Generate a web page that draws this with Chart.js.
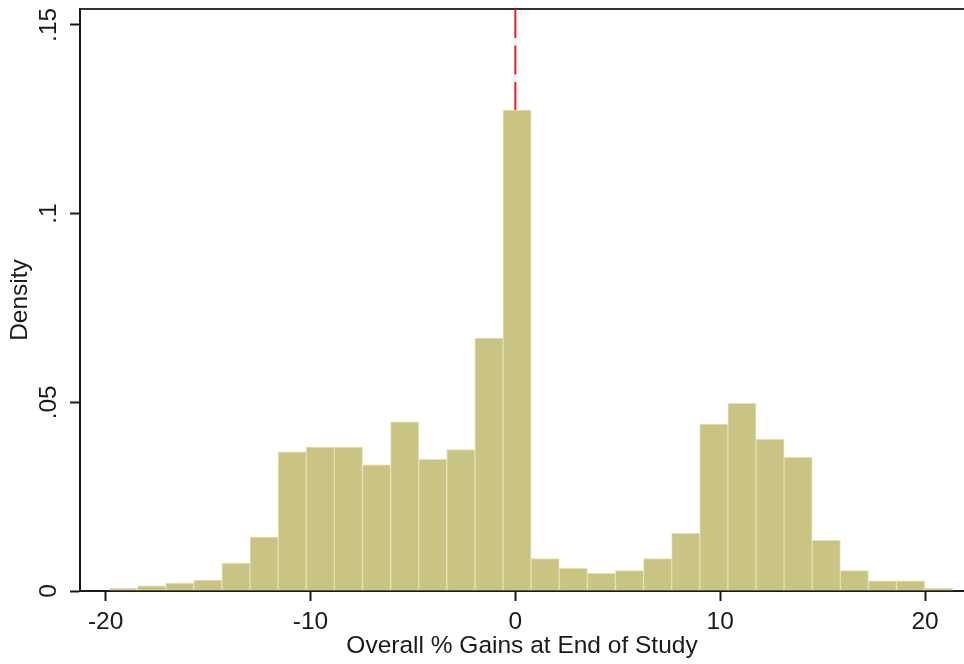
<!DOCTYPE html>
<html>
<head>
<meta charset="utf-8">
<title>Overall % Gains at End of Study</title>
<script src="https://cdn.jsdelivr.net/npm/chart.js@4.4.1/dist/chart.umd.min.js"></script>
<style>
  html, body { margin: 0; padding: 0; background: #fff; overflow: hidden; }
</style>
</head>
<body>
<canvas id="hist" width="964" height="664"></canvas>
<script>
// histogram bins: midpoint of each bin (% gains) and its density
const binMids = [
  -19.124, -17.752, -16.380, -15.008, -13.636, -12.264, -10.892, -9.520,
  -8.148, -6.776, -5.404, -4.032, -2.660, -1.288, 0.084, 1.456,
  2.828, 4.200, 5.572, 6.944, 8.316, 9.688, 11.060, 12.432,
  13.804, 15.176, 16.548, 17.920, 19.292, 20.664
];
const density = [
  0.0007, 0.0014, 0.0021, 0.0029, 0.0074, 0.0143, 0.0369, 0.0381,
  0.0381, 0.0334, 0.0448, 0.0349, 0.0375, 0.0670, 0.1274, 0.0086,
  0.0060, 0.0047, 0.0054, 0.0086, 0.0153, 0.0442, 0.0497, 0.0402,
  0.0354, 0.0134, 0.0054, 0.0027, 0.0027, 0.0007
];
const xTicks = [-20, -10, 0, 10, 20];
const yTicks = [0, 0.05, 0.1, 0.15];
const yTickLabels = ["0", ".05", ".1", ".15"];
const refLineX = 0;

const xMin = -21.25, xMax = 21.9;
const yMin = 0, yMax = 0.1542;

const font = { family: "'Liberation Sans', Arial, sans-serif", size: 24.5 };
const ink = "#1a1a1a";

const noPad = (w, h) => scale => {
  if (w !== null) scale.width = w;
  if (h !== null) scale.height = h;
  scale.paddingLeft = 0;
  scale.paddingRight = 0;
  scale.paddingTop = 0;
  scale.paddingBottom = 0;
};

new Chart("hist", {
  type: "bar",
  data: {
    datasets: [
      {
        type: "bar",
        data: binMids.map((m, i) => ({ x: m, y: density[i] })),
        backgroundColor: "#c9c483",
        borderColor: "#e4e0b2",
        borderWidth: 1,
        barPercentage: 1,
        categoryPercentage: 1,
        order: 1
      },
      {
        type: "line",
        data: [{ x: refLineX, y: yMax }, { x: refLineX, y: yMin }],
        borderColor: "#ee1c25",
        borderWidth: 2,
        borderDash: [29, 7.5],
        pointRadius: 0,
        fill: false,
        order: 2
      }
    ]
  },
  options: {
    responsive: false,
    animation: false,
    events: [],
    layout: { padding: 0 },
    plugins: {
      legend: { display: false },
      tooltip: { enabled: false }
    },
    scales: {
      x: {
        type: "linear",
        position: "bottom",
        min: xMin,
        max: xMax,
        offset: false,
        afterBuildTicks: axis => { axis.ticks = xTicks.map(v => ({ value: v })); },
        afterFit: noPad(null, 73),
        grid: {
          offset: false,
          drawOnChartArea: false,
          drawTicks: true,
          tickLength: 10,
          tickWidth: 2,
          tickColor: ink
        },
        border: { display: true, color: ink, width: 2 },
        ticks: {
          color: ink,
          font: font,
          padding: 7,
          maxRotation: 0,
          autoSkip: false,
          callback: v => String(v)
        },
        title: {
          display: true,
          text: "Overall % Gains at End of Study",
          color: ink,
          font: font,
          padding: { top: 0, bottom: 3 }
        }
      },
      xTop: {
        type: "linear",
        position: "top",
        display: true,
        min: xMin,
        max: xMax,
        afterFit: noPad(null, 9),
        grid: { display: false, drawTicks: false },
        border: { display: true, color: "#333", width: 2 },
        ticks: { display: false }
      },
      y: {
        type: "linear",
        position: "left",
        min: yMin,
        max: yMax,
        afterBuildTicks: axis => { axis.ticks = yTicks.map(v => ({ value: v })); },
        afterFit: noPad(80, null),
        grid: {
          drawOnChartArea: false,
          drawTicks: true,
          tickLength: 10,
          tickWidth: 2,
          tickColor: ink
        },
        border: { display: true, color: ink, width: 2 },
        ticks: {
          color: ink,
          font: font,
          padding: 3.5,
          minRotation: 90,
          maxRotation: 90,
          crossAlign: "center",
          autoSkip: false,
          callback: (v, i) => yTickLabels[i]
        },
        title: {
          display: true,
          text: "Density",
          color: ink,
          font: font,
          padding: { top: 6, bottom: 0 }
        }
      }
    }
  }
});
</script>
</body>
</html>
